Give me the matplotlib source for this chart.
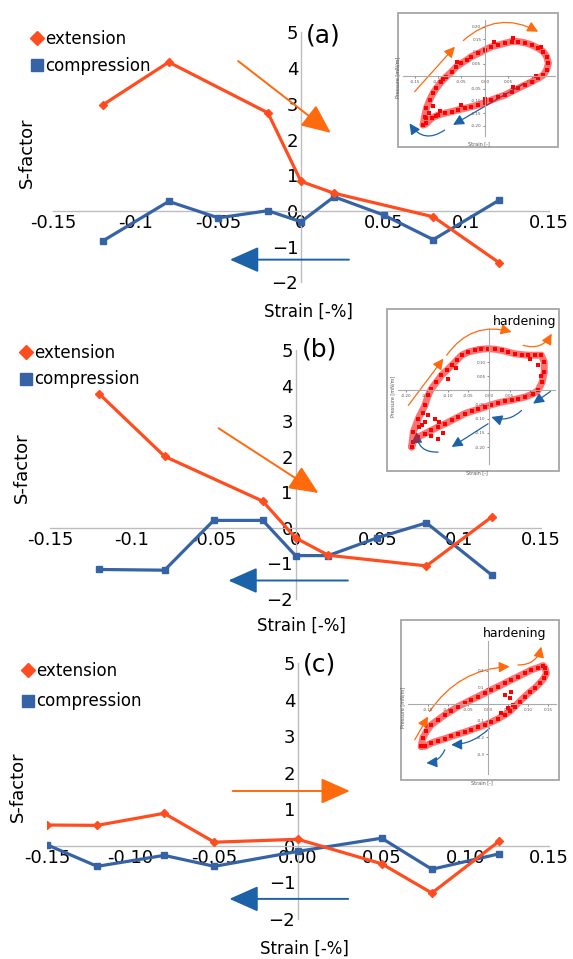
import numpy as np
import matplotlib
matplotlib.use('Agg')
import matplotlib.pyplot as plt
from matplotlib.lines import Line2D
from matplotlib.patches import Rectangle, FancyArrowPatch

W, H = 573, 959
ORANGE = '#FF4D1F'
BLUE = '#3563A6'
ARR_OR = '#FF6A0D'
ARR_BL = '#1C62A8'
GRID = '#BDBDBD'

# ---- main panels: S-factor vs strain ----
ext_x_a = [-0.12, -0.08, -0.02, 0.0, 0.02, 0.08, 0.12]
ext_y_a = [2.97, 4.17, 2.75, 0.83, 0.50, -0.16, -1.45]
com_x_a = [-0.12, -0.08, -0.05, -0.02, 0.0, 0.02, 0.05, 0.08, 0.12]
com_y_a = [-0.84, 0.27, -0.19, 0.01, -0.30, 0.40, -0.11, -0.80, 0.31]

ext_x_b = [-0.12, -0.08, -0.02, 0.0, 0.02, 0.08, 0.12]
ext_y_b = [3.77, 2.01, 0.75, -0.28, -0.77, -1.07, 0.31]
com_x_b = [-0.12, -0.08, -0.05, -0.02, 0.0, 0.02, 0.05, 0.08, 0.12]
com_y_b = [-1.17, -1.19, 0.21, 0.21, -0.78, -0.78, -0.28, 0.14, -1.33]

ext_x_c = [-0.15, -0.12, -0.08, -0.05, 0.0, 0.05, 0.08, 0.12]
ext_y_c = [0.57, 0.56, 0.89, 0.10, 0.18, -0.49, -1.29, 0.12]
com_x_c = [-0.15, -0.12, -0.08, -0.05, 0.0, 0.05, 0.08, 0.12]
com_y_c = [0.03, -0.56, -0.26, -0.56, -0.15, 0.21, -0.64, -0.22]

xticks = [-0.15, -0.1, -0.05, 0, 0.05, 0.1, 0.15]
xlabels_ab = ['-0.15', '-0.1', '-0.05', '0', '0.05', '0.1', '0.15']
xlabels_c = ['-0.15', '-0.10', '-0.05', '0.00', '0.05', '0.10', '0.15']
yticks = [-2, -1, 0, 1, 2, 3, 4, 5]

# direction arrows (start, end) in data coords
arr_or_a = ((-0.038, 4.20), (0.018, 2.19))
arr_bl_a = ((0.029, -1.36), (-0.043, -1.36))
arr_or_b = ((-0.047, 2.80), (0.014, 0.98))
arr_bl_b = ((0.032, -1.48), (-0.041, -1.48))
arr_or_c = ((-0.039, 1.50), (0.031, 1.50))
arr_bl_c = ((0.030, -1.45), (-0.041, -1.45))

# ---- inset loops: pressure [mN/m] vs strain [-] ----
loop_a = [(-0.132, -0.197), (-0.129, -0.164), (-0.125, -0.130), (-0.118, -0.096), (-0.111, -0.069),
          (-0.104, -0.049), (-0.093, -0.022), (-0.082, -0.001), (-0.071, 0.019), (-0.061, 0.039),
          (-0.050, 0.053), (-0.039, 0.066), (-0.029, 0.080), (-0.014, 0.093), (0.000, 0.107),
          (0.014, 0.120), (0.029, 0.127), (0.043, 0.134), (0.057, 0.141), (0.071, 0.141),
          (0.086, 0.136), (0.100, 0.127), (0.114, 0.114), (0.125, 0.100), (0.132, 0.080),
          (0.136, 0.053), (0.132, 0.026), (0.125, 0.005), (0.114, -0.008), (0.100, -0.022),
          (0.086, -0.035), (0.071, -0.049), (0.057, -0.062), (0.043, -0.076), (0.029, -0.085),
          (0.014, -0.096), (0.000, -0.107), (-0.014, -0.116), (-0.029, -0.123), (-0.043, -0.130),
          (-0.057, -0.136), (-0.071, -0.143), (-0.086, -0.150), (-0.100, -0.157), (-0.114, -0.170),
          (-0.125, -0.191), (-0.132, -0.197)]
extra_a = [(-0.120, -0.150), (-0.110, -0.120), (-0.125, -0.170), (-0.105, -0.160), (-0.090, -0.010),
           (-0.060, 0.060), (0.020, 0.140), (0.060, 0.155), (0.120, 0.120), (0.110, 0.000),
           (0.060, -0.045), (0.000, -0.090), (-0.050, -0.115), (-0.095, -0.140)]
loop_b = [(-0.187, -0.200), (-0.183, -0.147), (-0.171, -0.100), (-0.155, -0.053), (-0.147, -0.018),
          (-0.139, 0.006), (-0.127, 0.029), (-0.115, 0.053), (-0.102, 0.071), (-0.090, 0.088),
          (-0.078, 0.106), (-0.066, 0.124), (-0.050, 0.135), (-0.034, 0.141), (-0.018, 0.145),
          (-0.002, 0.147), (0.015, 0.145), (0.031, 0.141), (0.047, 0.135), (0.063, 0.129),
          (0.079, 0.126), (0.095, 0.124), (0.111, 0.124), (0.127, 0.124), (0.134, 0.100),
          (0.134, 0.065), (0.129, 0.029), (0.119, 0.000), (0.107, -0.012), (0.087, -0.024),
          (0.071, -0.029), (0.055, -0.035), (0.039, -0.039), (0.023, -0.044), (0.006, -0.051),
          (-0.010, -0.059), (-0.026, -0.067), (-0.042, -0.074), (-0.058, -0.082), (-0.074, -0.094),
          (-0.090, -0.106), (-0.106, -0.118), (-0.123, -0.129), (-0.139, -0.141), (-0.155, -0.153),
          (-0.171, -0.165), (-0.183, -0.182), (-0.187, -0.200)]
extra_b = [(-0.155, -0.110), (-0.147, -0.088), (-0.163, -0.124), (-0.131, -0.100), (-0.139, -0.160),
           (-0.123, -0.170), (-0.110, -0.150), (-0.170, -0.130), (-0.160, -0.080), (-0.120, -0.110),
           (-0.080, 0.080), (-0.100, 0.040), (0.120, 0.090), (0.125, 0.050), (0.100, 0.110)]
loop_c = [(-0.167, -0.254), (-0.163, -0.204), (-0.154, -0.164), (-0.142, -0.124), (-0.125, -0.094),
          (-0.108, -0.064), (-0.092, -0.040), (-0.075, -0.014), (-0.058, 0.006), (-0.042, 0.026),
          (-0.025, 0.046), (-0.008, 0.066), (0.008, 0.086), (0.025, 0.106), (0.042, 0.126),
          (0.058, 0.146), (0.075, 0.166), (0.092, 0.186), (0.108, 0.206), (0.125, 0.220),
          (0.138, 0.232), (0.143, 0.216), (0.146, 0.186), (0.140, 0.156), (0.129, 0.126),
          (0.117, 0.096), (0.104, 0.072), (0.092, 0.046), (0.079, 0.016), (0.067, -0.014),
          (0.054, -0.044), (0.042, -0.064), (0.025, -0.088), (0.008, -0.108), (-0.008, -0.124),
          (-0.025, -0.140), (-0.042, -0.154), (-0.058, -0.168), (-0.075, -0.180), (-0.092, -0.194),
          (-0.108, -0.208), (-0.125, -0.220), (-0.142, -0.234), (-0.158, -0.254), (-0.167, -0.254)]
extra_c = [(0.042, 0.056), (0.054, 0.036), (0.050, -0.024), (0.063, -0.004), (0.033, -0.054), (0.058, 0.076)]

# inset arrows: (start, end, colour, curvature)
inarr_a = [((-0.150, -0.062), (-0.064, 0.120), ARR_OR, 0.0),
           ((-0.046, 0.145), (0.114, 0.181), ARR_OR, -0.35),
           ((0.082, -0.031), (-0.068, -0.197), ARR_BL, 0.0),
           ((-0.086, -0.218), (-0.161, -0.191), ARR_BL, -0.5)]
inarr_b = [((-0.195, -0.053), (-0.110, 0.112), ARR_OR, 0.0),
           ((-0.102, 0.124), (0.055, 0.206), ARR_OR, -0.35),
           ((0.083, 0.159), (0.152, 0.200), ARR_OR, 0.4),
           ((0.149, -0.004), (0.107, -0.047), ARR_BL, 0.0),
           ((0.079, -0.071), (0.006, -0.094), ARR_BL, -0.3),
           ((-0.002, -0.118), (-0.090, -0.200), ARR_BL, 0.0),
           ((-0.123, -0.218), (-0.175, -0.147), ARR_BL, -0.5)]
inarr_c = [((-0.183, -0.214), (-0.150, -0.074), ARR_OR, 0.0),
           ((-0.146, -0.044), (0.054, 0.226), ARR_OR, -0.25),
           ((0.075, 0.236), (0.133, 0.346), ARR_OR, 0.4),
           ((0.004, -0.144), (-0.092, -0.244), ARR_BL, -0.2),
           ((-0.108, -0.274), (-0.154, -0.354), ARR_BL, -0.3)]


def fbox(x0, y0, x1, y1):
    # pixel box (top-left origin) -> figure fraction [l, b, w, h]
    return [x0 / W, 1 - y1 / H, (x1 - x0) / W, (y1 - y0) / H]


fig = plt.figure(figsize=(W / 100, H / 100), dpi=100)


def main_panel(box, ex, ey, cx, cy, xlabels, letter, arr_or, arr_bl, leg_xy, sfac, strain, let_xy, lab_space):
    ax = fig.add_axes(fbox(*box))
    ax.set_xlim(-0.15, 0.15)
    ax.set_ylim(-2, 5)
    for s in ['top', 'right']:
        ax.spines[s].set_visible(False)
    ax.spines['left'].set_position(('data', 0))
    ax.spines['bottom'].set_position(('data', 0))
    for s in ['left', 'bottom']:
        ax.spines[s].set_color(GRID)
        ax.spines[s].set_linewidth(1.0)
    ax.set_xticks(xticks)
    ax.set_xticklabels(xlabels)
    ax.set_yticks(yticks)
    ax.tick_params(length=0, labelsize=13, pad=2)
    ax.patch.set_alpha(0)

    ax.annotate('', xy=arr_or[1], xytext=arr_or[0],
                arrowprops=dict(arrowstyle='-|>,head_length=0.9,head_width=0.4', mutation_scale=20,
                                color=ARR_OR, lw=1.4, shrinkA=0, shrinkB=0))
    ax.annotate('', xy=arr_bl[1], xytext=arr_bl[0],
                arrowprops=dict(arrowstyle='-|>,head_length=0.9,head_width=0.4', mutation_scale=20,
                                color=ARR_BL, lw=1.4, shrinkA=0, shrinkB=0))

    ax.plot(ex, ey, color=ORANGE, lw=2.3, marker='D', ms=4.5, zorder=4)
    ax.plot(cx, cy, color=BLUE, lw=2.3, marker='s', ms=5, zorder=3)

    handles = [Line2D([], [], color=ORANGE, marker='D', ls='none', ms=7),
               Line2D([], [], color=BLUE, marker='s', ls='none', ms=8)]
    fig.legend(handles, ['extension', 'compression'], loc='upper left',
               bbox_to_anchor=(leg_xy[0] / W, 1 - leg_xy[1] / H), frameon=False,
               fontsize=12, handlelength=0.6, handletextpad=0.2, borderpad=0,
               borderaxespad=0, labelspacing=lab_space)

    fig.text(sfac[0] / W, 1 - sfac[1] / H, 'S-factor', fontsize=13, rotation=90,
             ha='center', va='center')
    fig.text(strain[0] / W, 1 - strain[1] / H, 'Strain [-%]', fontsize=12,
             ha='center', va='center')
    ax.text(let_xy[0], let_xy[1], letter, transform=ax.transAxes, fontsize=18,
            ha='center', va='center')
    return ax


def inset(box, frame, xlim, ylim, loop, extra, xt, yt, yfmt, arrows, hard):
    fig.add_artist(Rectangle((frame[0] / W, 1 - frame[3] / H), (frame[2] - frame[0]) / W,
                             (frame[3] - frame[1]) / H, transform=fig.transFigure,
                             facecolor='white', edgecolor='#A6A6A6', lw=1.3, zorder=5))
    ia = fig.add_axes(fbox(*box), zorder=6)
    ia.patch.set_alpha(0)
    ia.set_xlim(*xlim)
    ia.set_ylim(*ylim)
    for s in ['top', 'right']:
        ia.spines[s].set_visible(False)
    ia.spines['left'].set_position(('data', 0))
    ia.spines['bottom'].set_position(('data', 0))
    for s in ['left', 'bottom']:
        ia.spines[s].set_color('#AAAAAA')
        ia.spines[s].set_linewidth(0.8)
    ia.set_xticks(xt)
    ia.set_xticklabels(['%.2f' % v for v in xt])
    ia.set_yticks(yt)
    ia.set_yticklabels([yfmt % v for v in yt])
    ia.tick_params(length=1.5, width=0.5, labelsize=3, pad=1, colors='#555555')
    lx = [p[0] for p in loop]
    ly = [p[1] for p in loop]
    ia.plot(lx, ly, color='red', lw=5, alpha=0.55, solid_capstyle='round')
    ia.scatter(lx, ly, s=8, marker='s', color='red', lw=0)
    ia.scatter([p[0] for p in extra], [p[1] for p in extra], s=8, marker='s', color='red', lw=0)
    for (p0, p1, c, rad) in arrows:
        ia.add_patch(FancyArrowPatch(p0, p1, connectionstyle='arc3,rad=%.2f' % rad,
                                     arrowstyle='-|>,head_length=0.8,head_width=0.4', mutation_scale=8,
                                     color=c, lw=0.9, shrinkA=0, shrinkB=0, clip_on=False))
    ia.set_xlabel('Strain [-]', fontsize=3.5, color='#555555')
    ia.set_ylabel('Pressure [mN/m]', fontsize=3.5, color='#555555')
    ia.xaxis.set_label_coords(0.5, -0.05)
    ia.yaxis.set_label_coords(-0.02, 0.5)
    if hard:
        fig.text(hard[0] / W, 1 - hard[1] / H, 'hardening', fontsize=9, ha='center', va='center',
                 zorder=7)


main_panel((53, 32.5, 549, 282.5), ext_x_a, ext_y_a, com_x_a, com_y_a, xlabels_ab, '(a)',
           arr_or_a, arr_bl_a, (32, 30), (27, 153), (308, 312), (0.544, 0.986), 0.55)
main_panel((50, 350, 541, 599), ext_x_b, ext_y_b, com_x_b, com_y_b, xlabels_ab, '(b)',
           arr_or_b, arr_bl_b, (21, 344), (22, 468), (301, 626), (0.55, 1.0), 0.5)
main_panel((47, 663, 549, 919), ext_x_c, ext_y_c, com_x_c, com_y_c, xlabels_c, '(c)',
           arr_or_c, arr_bl_c, (23, 662), (17.5, 787), (304.5, 949), (0.543, 0.996), 0.75)

inset((403, 19.6, 555, 135.5), (398, 13, 558, 147), (-0.175, 0.15), (-0.24, 0.23), loop_a, extra_a,
      [-0.15, -0.10, -0.05, 0.0, 0.05, 0.10], [-0.20, -0.15, -0.10, -0.05, 0.05, 0.10, 0.15, 0.20],
      '%.2f', inarr_a, None)
inset((398, 328, 555, 464), (387, 309, 559, 471), (-0.22, 0.16), (-0.26, 0.22), loop_b, extra_b,
      [-0.20, -0.15, -0.10, -0.05, 0.0, 0.05, 0.10], [-0.20, -0.15, -0.10, -0.05, 0.05, 0.10, 0.15],
      '%.2f', inarr_b, (525, 322))
inset((408, 641, 556, 774), (401, 620, 559, 780), (-0.2, 0.17), (-0.42, 0.38), loop_c, extra_c,
      [-0.15, -0.10, -0.05, 0.0, 0.05, 0.10, 0.15], [-0.3, -0.2, -0.1, 0.1, 0.2],
      '%.1f', inarr_c, (515, 633))

fig.savefig('out.png', dpi=100)
